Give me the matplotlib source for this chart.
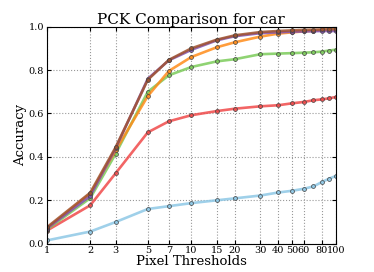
import numpy as np
import matplotlib
matplotlib.use("Agg")
import matplotlib.pyplot as plt

# Pixel thresholds and PCK accuracy per method
thresholds = [1, 2, 3, 5, 7, 10, 15, 20, 30, 40, 50, 60, 70, 80, 90, 100]
tick_vals = [1, 2, 3, 5, 7, 10, 15, 20, 30, 40, 50, 60, 80, 100]

acc_blue = [0.015, 0.056, 0.10, 0.16, 0.173, 0.187, 0.20, 0.209, 0.222, 0.236,
            0.244, 0.253, 0.264, 0.284, 0.30, 0.312]
acc_red = [0.06, 0.177, 0.325, 0.513, 0.564, 0.592, 0.611, 0.622, 0.633, 0.638,
           0.647, 0.653, 0.661, 0.665, 0.670, 0.676]
acc_green = [0.065, 0.21, 0.415, 0.70, 0.776, 0.814, 0.840, 0.850, 0.873, 0.876,
             0.878, 0.880, 0.882, 0.885, 0.890, 0.894]
acc_orange = [0.07, 0.23, 0.43, 0.68, 0.796, 0.860, 0.905, 0.928, 0.954, 0.968,
              0.974, 0.978, 0.981, 0.983, 0.985, 0.986]
acc_purple = [0.07, 0.22, 0.44, 0.76, 0.845, 0.893, 0.937, 0.956, 0.970, 0.974,
              0.977, 0.978, 0.979, 0.980, 0.980, 0.980]
acc_brown = [0.075, 0.235, 0.445, 0.755, 0.847, 0.90, 0.94, 0.96, 0.975, 0.980,
             0.983, 0.985, 0.986, 0.987, 0.988, 0.989]

series = [
    (acc_blue, '#8ec8e6'),
    (acc_red, '#f04a4a'),
    (acc_green, '#7ccc5a'),
    (acc_orange, '#ff8c1a'),
    (acc_purple, '#8050b0'),
    (acc_brown, '#a0522d'),
]

plt.rcParams['font.family'] = 'DejaVu Serif'

fig = plt.figure(figsize=(3.74, 2.72), dpi=100)
ax = fig.add_axes([0.125, 0.104, 0.773, 0.798])

for vals, col in series:
    ax.plot(thresholds, vals, color=col, lw=1.9, alpha=0.85,
            marker='o', ms=2.8, mfc=col, mec='#404040', mew=0.6)

ax.set_xscale('log')
ax.set_xlim(1, 100)
ax.set_ylim(0, 1.0)
ax.set_xticks(tick_vals)
ax.set_xticklabels([str(t) for t in tick_vals])
ax.xaxis.set_minor_locator(matplotlib.ticker.NullLocator())
ax.set_yticks(np.arange(0, 1.01, 0.2))
ax.set_yticklabels(['0.0', '0.2', '0.4', '0.6', '0.8', '1.0'])
ax.tick_params(direction='in', top=True, right=True, labelsize=7, length=3, pad=2)
ax.grid(True, linestyle=':', color='#999999', linewidth=0.8)

ax.set_xlabel('Pixel Thresholds', fontsize=9.5, labelpad=0)
ax.set_ylabel('Accuracy', fontsize=9.5, labelpad=1)
ax.set_title('PCK Comparison for car', fontsize=11, pad=2)

fig.savefig('out.png', dpi=100)
